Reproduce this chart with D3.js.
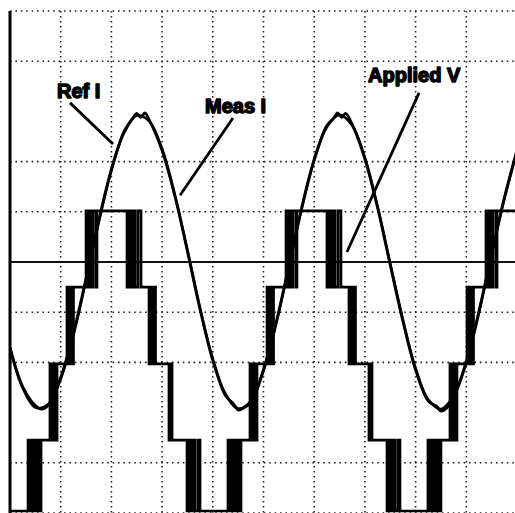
<!DOCTYPE html>
<html>
<head>
<meta charset="utf-8">
<script src="https://cdn.jsdelivr.net/npm/d3@7/dist/d3.min.js"></script>
<style>
  html, body { margin: 0; padding: 0; background: #fff; }
</style>
</head>
<body>
<div id="chart"></div>
<script>
// time in ms (5 ms / div), amplitude in screen divisions
var refI = [
  [0,-1.72],[1.25,-2.51],[2.5,-2.90],[3.75,-2.84],[5,-2.33],[6.25,-1.46],[7.5,-0.36],[8.75,0.79],
  [10,1.82],[11.25,2.57],[12.5,2.92],[13.75,2.80],[15,2.25],[16.25,1.35],[17.5,0.24],[18.75,-0.92],
  [20,-1.93],[21.25,-2.63],[22.5,-2.92],[23.75,-2.77],[25,-2.17],[26.25,-1.23],[27.5,-0.11],[28.75,1.04],
  [30,2.02],[31.25,2.69],[32.5,2.93],[33.75,2.72],[35,2.08],[36.25,1.11],[37.5,-0.03],[38.75,-1.15],
  [40,-2.12],[41.25,-2.74],[42.5,-2.93],[43.75,-2.67],[45,-2.01],[46.25,-1.01],[47.5,0.14],[48.75,1.25],
  [50,2.20]
];
var measI = [
  [0,-1.70],[1.25,-2.48],[2.5,-2.86],[3.1,-2.93],[3.75,-2.86],[5,-2.30],[6.25,-1.42],[7.5,-0.33],
  [8.75,0.82],[10,1.85],[11.25,2.60],[12.1,2.86],[12.5,2.96],[12.9,2.88],[13.3,2.97],[13.75,2.82],
  [15,2.22],[16.25,1.32],[17.5,0.21],[18.75,-0.95],[20,-1.96],[21.25,-2.66],[22.1,-2.84],[22.5,-2.95],
  [23.1,-2.90],[23.75,-2.80],[25,-2.14],[26.25,-1.20],[27.5,-0.08],[28.75,1.07],[30,2.05],[31.25,2.72],
  [31.9,2.86],[32.3,2.97],[32.7,2.88],[33.1,2.96],[33.75,2.74],[35,2.05],[36.25,1.08],[37.5,-0.06],
  [38.75,-1.18],[40,-2.15],[41.25,-2.77],[42.1,-2.88],[42.5,-2.97],[43,-2.92],[43.75,-2.70],[45,-1.98],
  [46.25,-0.98],[47.5,0.17],[48.75,1.28],[50,2.23]
];
// inverter levels
var L2 = 1.02, L1 = -0.5, L0 = -2.03, M1 = -3.55, M2 = -4.96;
// applied voltage: [switching time, new level]
var appliedV = [
  [0,M2],
  [1.78,M1],[1.92,M2],[2.17,M1],[2.37,M2],[2.61,M1],[2.86,M2],[3.06,M1],
  [3.94,L0],[4.14,M1],[4.29,L0],[4.54,M1],[4.64,L0],
  [5.62,L1],[5.82,L0],[5.92,L1],[6.16,L0],[6.26,L1],
  [7.50,L2],[7.69,L1],[7.79,L2],[8.04,L1],[8.19,L2],[8.48,L1],[8.58,L2],
  [11.54,L1],[11.74,L2],[11.93,L1],[12.18,L2],[12.33,L1],[12.62,L2],[12.92,L1],
  [13.71,L0],[13.91,L1],[14.00,L0],[14.25,L1],[14.35,L0],
  [15.68,M1],[15.88,L0],[15.98,M1],
  [17.46,M2],[17.65,M1],[17.85,M2],[18.05,M1],[18.24,M2],[18.54,M1],[18.74,M2],
  [21.50,M1],[21.65,M2],[21.89,M1],[22.09,M2],[22.34,M1],[22.58,M2],[22.78,M1],
  [23.67,L0],[23.87,M1],[24.01,L0],[24.26,M1],[24.36,L0],
  [25.35,L1],[25.54,L0],[25.64,L1],[25.89,L0],[25.99,L1],
  [27.22,L2],[27.42,L1],[27.51,L2],[27.76,L1],[27.91,L2],[28.21,L1],[28.30,L2],
  [31.26,L1],[31.46,L2],[31.66,L1],[31.90,L2],[32.05,L1],[32.35,L2],[32.64,L1],
  [33.43,L0],[33.63,L1],[33.73,L0],[33.97,L1],[34.07,L0],
  [35.40,M1],[35.60,L0],[35.70,M1],
  [37.18,M2],[37.38,M1],[37.57,M2],[37.77,M1],[37.97,M2],[38.26,M1],[38.46,M2],
  [41.22,M1],[41.37,M2],[41.62,M1],[41.81,M2],[42.06,M1],[42.31,M2],[42.50,M1],
  [43.39,L0],[43.59,M1],[43.74,L0],[43.98,M1],[44.08,L0],
  [45.07,L1],[45.27,L0],[45.37,L1],[45.61,L0],[45.71,L1],
  [46.94,L2],[47.14,L1],[47.24,L2],[47.48,L1],[47.63,L2],[47.93,L1],[48.03,L2],
  [50.2,L2]
];
var xGrid = [5,10,15,20,25,30,35,40,45];
var yGrid = [5,4,2,1,-1,-2,-4,-5];
// labels: text, anchor point, leader start, leader end
var labels = [
  {text:"Ref I",     x:4.64,  y:3.27, x1:5.92,  y1:3.17, x2:10.16, y2:2.35},
  {text:"Meas I",    x:19.23, y:2.97, x1:21.99, y1:2.87, x2:16.77, y2:1.33},
  {text:"Applied V", x:35.31, y:3.59, x1:40.34, y1:3.37, x2:33.23, y2:0.20}
];

var width = 515, height = 513;
var startX = 10, startY = 11;

var svg = d3.select("#chart").append("svg").attr("width", width).attr("height", height);

var xScale = d3.scaleLinear().domain([0, 50]).range([startX, startX + 507]);
var yScale = d3.scaleLinear().domain([-5, 5]).range([513, startY]);

svg.append("clipPath").attr("id", "plot").append("rect")
  .attr("x", startX).attr("y", startY - 2).attr("width", width - startX).attr("height", height - startY + 2);

// dotted grid
svg.selectAll(".vgrid").data(xGrid).enter().append("line")
  .attr("x1", xScale).attr("x2", xScale).attr("y1", startY).attr("y2", height)
  .attr("stroke", "#222").attr("stroke-width", 1.6).attr("stroke-dasharray", "1.6,3.4");
svg.selectAll(".hgrid").data(yGrid).enter().append("line")
  .attr("x1", startX).attr("x2", width).attr("y1", yScale).attr("y2", yScale)
  .attr("stroke", "#222").attr("stroke-width", 1.6).attr("stroke-dasharray", "1.6,3.8");

// center line and left border
svg.append("line").attr("x1", startX).attr("x2", width).attr("y1", yScale(0)).attr("y2", yScale(0))
  .attr("stroke", "#111").attr("stroke-width", 1.9);
svg.append("line").attr("x1", startX).attr("x2", startX).attr("y1", startY).attr("y2", height)
  .attr("stroke", "#000").attr("stroke-width", 3);

var g = svg.append("g").attr("clip-path", "url(#plot)");

// applied voltage
var stepLine = d3.line().x(function(d){return xScale(d[0])}).y(function(d){return yScale(d[1])}).curve(d3.curveStepAfter);
g.append("path").attr("d", stepLine(appliedV)).attr("fill", "none").attr("stroke", "#000")
  .attr("stroke-width", 2.7).attr("stroke-linejoin", "miter");

// currents
var curve = d3.line().x(function(d){return xScale(d[0])}).y(function(d){return yScale(d[1])}).curve(d3.curveCatmullRom);
g.append("path").attr("d", curve(refI)).attr("fill", "none").attr("stroke", "#000").attr("stroke-width", 2.6);
g.append("path").attr("d", curve(measI)).attr("fill", "none").attr("stroke", "#000").attr("stroke-width", 2.8);

// labels and leaders
svg.selectAll(".leader").data(labels).enter().append("line")
  .attr("x1", function(d){return xScale(d.x1)}).attr("y1", function(d){return yScale(d.y1)})
  .attr("x2", function(d){return xScale(d.x2)}).attr("y2", function(d){return yScale(d.y2)})
  .attr("stroke", "#000").attr("stroke-width", 2.8);
svg.selectAll(".label").data(labels).enter().append("text").text(function(d){return d.text})
  .attr("x", function(d){return xScale(d.x)}).attr("y", function(d){return yScale(d.y)})
  .attr("font-family", "Liberation Sans, Arial, sans-serif").attr("font-weight", "bold").attr("font-size", 20)
  .attr("fill", "#000").attr("stroke", "#000").attr("stroke-width", 1.5).attr("stroke-linejoin", "round");
</script>
</body>
</html>
